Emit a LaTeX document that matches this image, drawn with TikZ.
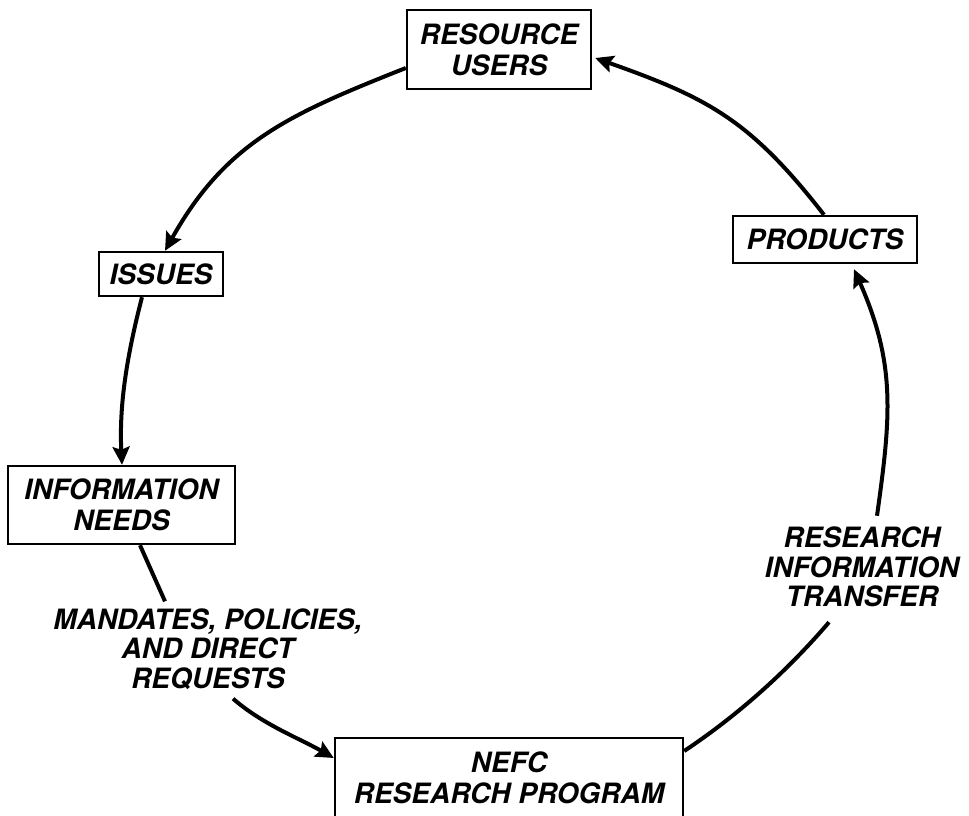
\documentclass[tikz,border=0pt]{standalone}
\usepackage{fontspec}
\setmainfont{TeX Gyre Heros}
\usetikzlibrary{arrows.meta}
\begin{document}
\begin{tikzpicture}[x=1pt,y=-1pt,
  box/.style={draw, line width=2.4pt, inner sep=0pt, align=center,
              font=\fontsize{28}{31}\selectfont\bfseries\itshape},
  lbl/.style={inner sep=3pt, align=center,
              font=\fontsize{28}{29.5}\selectfont\bfseries\itshape},
  flow/.style={line width=4pt},
  arr/.style={flow, -{Stealth[length=18pt,width=17pt,inset=3pt]}}]
\useasboundingbox (0,0) rectangle (969,816);
\clip (0,0) rectangle (969,816);
% boxes
\node[box, minimum width=184pt, minimum height=79pt] (ru) at (499,49.5) {RESOURCE\\USERS};
\node[box, minimum width=124pt, minimum height=44pt] (is) at (161,274) {ISSUES};
\node[box, minimum width=184pt, minimum height=47pt] (pr) at (825,239.5) {PRODUCTS};
\node[box, minimum width=227pt, minimum height=78pt] (in) at (121.5,505) {INFORMATION\\NEEDS};
\node[box, minimum width=348pt, minimum height=80pt] (ne) at (509,778) {NEFC\\RESEARCH PROGRAM};
% labels on the cycle
\node[lbl] (md) at (208,649) {MANDATES, POLICIES,\\AND DIRECT\\REQUESTS};
\node[lbl] (rit) at (862,567) {RESEARCH\\INFORMATION\\TRANSFER};
% connectors
\draw[arr] ([yshift=-18.5pt]ru.west) .. controls +(-116,46) and +(61,-109) .. ([xshift=4pt]is.north);
\draw[arr] ([xshift=-19pt]is.south) .. controls +(-15,58) and +(-3,-60) .. ([xshift=0.5pt]in.north);
\draw[flow] ([xshift=18.5pt]in.south) -- ([xshift=-43pt,yshift=4pt]md.north);
\draw[arr] ([xshift=25pt,yshift=-6pt]md.south) .. controls +(30,26) and +(-35,-20) .. ([yshift=20pt]ne.west);
\draw[flow] ([yshift=27pt]ne.east) .. controls +(54,-36) and +(-42,49) .. ([xshift=-33pt,yshift=-12pt]rit.south);
\draw[arr] ([xshift=15pt,yshift=8pt]rit.north) .. controls +(14,-100) and +(42,95) .. ([xshift=29pt,yshift=-5pt]pr.south);
\draw[arr] ([xshift=-1pt]pr.north) .. controls +(-74,-95) and +(113,40) .. ([xshift=3pt,yshift=-8.5pt]ru.east);
\end{tikzpicture}
\end{document}
